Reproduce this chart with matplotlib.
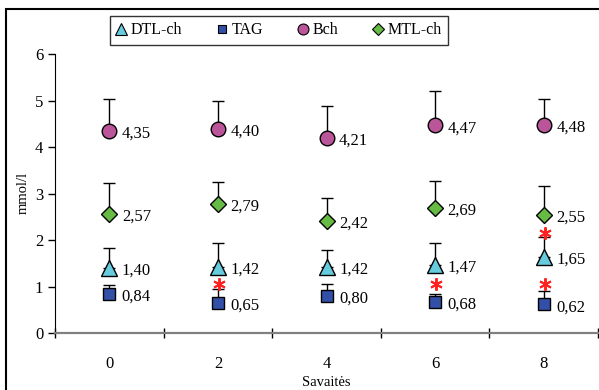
import numpy as np
import matplotlib.pyplot as plt
from matplotlib.patches import Rectangle
from matplotlib.lines import Line2D

plt.rcParams['font.family'] = ['Liberation Serif', 'DejaVu Serif']

# --- data ---
weeks = ["0", "2", "4", "6", "8"]
dtl = [1.40, 1.42, 1.42, 1.47, 1.65]
tag = [0.84, 0.65, 0.80, 0.68, 0.62]
bch = [4.35, 4.40, 4.21, 4.47, 4.48]
mtl = [2.57, 2.79, 2.42, 2.69, 2.55]
dtl_sd = [0.43, 0.52, 0.37, 0.47, 0.43]
tag_sd = [0.19, 0.30, 0.25, 0.17, 0.30]
bch_sd = [0.69, 0.59, 0.68, 0.74, 0.56]
mtl_sd = [0.67, 0.46, 0.50, 0.59, 0.61]
# significance stars: (week index, y)
stars = [(1, 1.07), (3, 1.05), (4, 1.05), (4, 2.15)]

series = [
    ("DTL-ch", dtl, dtl_sd, "^", "#66CCDD", 12),
    ("TAG", tag, tag_sd, "s", "#3350A8", 8),
    ("Bch", bch, bch_sd, "o", "#BB5599", 10.5),
    ("MTL-ch", mtl, mtl_sd, "D", "#66BB44", 8.5),
]

fig = plt.figure(figsize=(5.99, 3.90), dpi=100)
ax = fig.add_axes([55/599, (390-333.3)/390, (598-55)/599, (333.3-54.3)/390])

x = np.arange(len(weeks))
for name, vals, sd, mk, col, ms in series:
    ax.errorbar(x, vals, yerr=[np.zeros(len(sd)), sd], fmt="none",
                ecolor="black", elinewidth=1, capsize=4.5, capthick=1, zorder=2)
    ax.plot(x, vals, linestyle="none", marker=mk, markersize=ms,
            markerfacecolor=col, markeredgecolor="black", markeredgewidth=1, zorder=3)
    for xi, v in zip(x, vals):
        ax.annotate(f"{v:.2f}".replace(".", ","), (xi, v), xytext=(9, -2),
                    textcoords="offset points", ha="left", va="center", fontsize=12)

for xi, ys in stars:
    ax.plot(xi + 0.01, ys, linestyle="none", marker=(6, 2, 0), markersize=9,
            markeredgecolor="#FF2020", markeredgewidth=1.4, zorder=4)

ax.set_xlim(-0.5, len(weeks) - 0.5)
ax.set_ylim(0, 6)
ax.set_xticks(x)
ax.set_xticklabels(weeks, fontsize=12)
ax.set_xticks(np.arange(-0.5, len(weeks)), minor=True)
ax.tick_params(axis="x", which="major", length=0, pad=16)
ax.tick_params(axis="x", which="minor", length=7, direction="inout", color="black", width=1)
ax.set_yticks(range(0, 7))
ax.tick_params(axis="y", length=5, direction="out", labelsize=12, width=1)

ax.spines["top"].set_visible(False)
ax.spines["right"].set_visible(False)
ax.spines["left"].set_color("black")
ax.spines["bottom"].set_color("#808080")
ax.spines["bottom"].set_linewidth(1.6)

fig.text(23/599, 1 - 193/390, "mmol/l", rotation=90, ha="center", va="center", fontsize=10.5)
fig.text((55+598)/2/599, 1 - 382/390, "Savaitės", ha="center", va="center", fontsize=10.5)

handles = [Line2D([], [], linestyle="none", marker=mk, markersize=ms*0.75,
                  markerfacecolor=col, markeredgecolor="black", markeredgewidth=0.8)
           for name, vals, sd, mk, col, ms in series]
leg = fig.legend(handles, [s[0] for s in series], loc="center",
                 bbox_to_anchor=((113+445)/2/599, 1 - 30.5/390), ncol=4,
                 fontsize=11.5, frameon=True, fancybox=False, edgecolor="black",
                 handlelength=0.6, handletextpad=0.3, columnspacing=2.2,
                 borderpad=0.4)
leg.get_frame().set_linewidth(1)

fig.patches.append(Rectangle((6/599, -0.05), 1.1, 1 - 9/390 + 0.05, transform=fig.transFigure,
                             fill=False, edgecolor="black", linewidth=1.5))

fig.savefig("out.png", dpi=100)
